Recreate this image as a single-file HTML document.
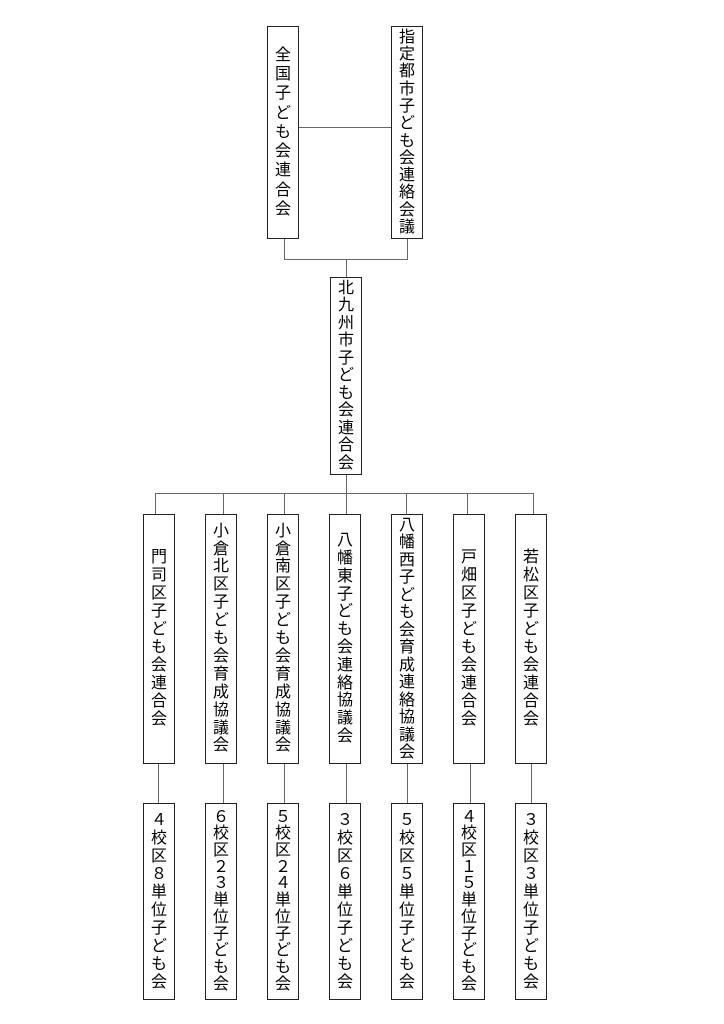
<!DOCTYPE html>
<html><head><meta charset="utf-8"><style>
body{margin:0;background:#fff;width:724px;height:1024px;position:relative;overflow:hidden;font-family:"Liberation Sans","Noto Sans CJK JP",sans-serif;}
.b{position:absolute;border:1.5px solid #222;box-sizing:border-box;display:flex;flex-direction:column;align-items:center;justify-content:center;font-size:16px;color:#000;background:#fff}
.b span{display:block;flex:none;height:var(--lh);line-height:var(--lh)}
.l{position:absolute;background:#666}
</style></head><body>
<div class="l" style="left:298px;top:127px;width:93px;height:1px"></div>
<div class="l" style="left:284px;top:238px;width:1px;height:21px"></div>
<div class="l" style="left:407px;top:238px;width:1px;height:21px"></div>
<div class="l" style="left:284px;top:259px;width:124px;height:1px"></div>
<div class="l" style="left:346px;top:259px;width:1px;height:18px"></div>
<div class="l" style="left:346px;top:474px;width:1px;height:19px"></div>
<div class="l" style="left:155px;top:493px;width:378px;height:1px"></div>
<div class="l" style="left:155px;top:493px;width:1px;height:21px"></div>
<div class="l" style="left:223px;top:493px;width:1px;height:21px"></div>
<div class="l" style="left:284px;top:493px;width:1px;height:21px"></div>
<div class="l" style="left:346px;top:493px;width:1px;height:21px"></div>
<div class="l" style="left:406px;top:493px;width:1px;height:21px"></div>
<div class="l" style="left:467px;top:493px;width:1px;height:21px"></div>
<div class="l" style="left:533px;top:493px;width:1px;height:21px"></div>
<div class="l" style="left:158px;top:763px;width:1px;height:40px"></div>
<div class="l" style="left:223px;top:763px;width:1px;height:40px"></div>
<div class="l" style="left:284px;top:763px;width:1px;height:40px"></div>
<div class="l" style="left:346px;top:763px;width:1px;height:40px"></div>
<div class="l" style="left:407px;top:763px;width:1px;height:40px"></div>
<div class="l" style="left:470px;top:763px;width:1px;height:40px"></div>
<div class="l" style="left:531px;top:763px;width:1px;height:40px"></div>

<div class="b" style="left:267px;top:26px;width:32px;height:213px;--lh:19.3px"><span>全</span><span>国</span><span>子</span><span>ど</span><span>も</span><span>会</span><span>連</span><span>合</span><span>会</span></div>
<div class="b" style="left:391px;top:26px;width:32px;height:213px;--lh:17.3px"><span>指</span><span>定</span><span>都</span><span>市</span><span>子</span><span>ど</span><span>も</span><span>会</span><span>連</span><span>絡</span><span>会</span><span>議</span></div>
<div class="b" style="left:330px;top:277px;width:32px;height:198px;--lh:17.5px"><span>北</span><span>九</span><span>州</span><span>市</span><span>子</span><span>ど</span><span>も</span><span>会</span><span>連</span><span>合</span><span>会</span></div>

<div class="b" style="left:143px;top:514px;width:32px;height:250px;--lh:18px"><span>門</span><span>司</span><span>区</span><span>子</span><span>ど</span><span>も</span><span>会</span><span>連</span><span>合</span><span>会</span></div>
<div class="b" style="left:205px;top:514px;width:32px;height:250px;--lh:17.9px"><span>小</span><span>倉</span><span>北</span><span>区</span><span>子</span><span>ど</span><span>も</span><span>会</span><span>育</span><span>成</span><span>協</span><span>議</span><span>会</span></div>
<div class="b" style="left:267px;top:514px;width:32px;height:250px;--lh:17.9px"><span>小</span><span>倉</span><span>南</span><span>区</span><span>子</span><span>ど</span><span>も</span><span>会</span><span>育</span><span>成</span><span>協</span><span>議</span><span>会</span></div>
<div class="b" style="left:329px;top:514px;width:32px;height:250px;--lh:17.8px"><span>八</span><span>幡</span><span>東</span><span>子</span><span>ど</span><span>も</span><span>会</span><span>連</span><span>絡</span><span>協</span><span>議</span><span>会</span></div>
<div class="b" style="left:391px;top:514px;width:32px;height:250px;--lh:17.5px"><span>八</span><span>幡</span><span>西</span><span>子</span><span>ど</span><span>も</span><span>会</span><span>育</span><span>成</span><span>連</span><span>絡</span><span>協</span><span>議</span><span>会</span></div>
<div class="b" style="left:453px;top:514px;width:32px;height:250px;--lh:18px"><span>戸</span><span>畑</span><span>区</span><span>子</span><span>ど</span><span>も</span><span>会</span><span>連</span><span>合</span><span>会</span></div>
<div class="b" style="left:515px;top:514px;width:32px;height:250px;--lh:18px"><span>若</span><span>松</span><span>区</span><span>子</span><span>ど</span><span>も</span><span>会</span><span>連</span><span>合</span><span>会</span></div>

<div class="b" style="left:143px;top:803px;width:32px;height:197px;--lh:18px"><span>４</span><span>校</span><span>区</span><span>８</span><span>単</span><span>位</span><span>子</span><span>ど</span><span>も</span><span>会</span></div>
<div class="b" style="left:205px;top:803px;width:32px;height:197px;--lh:16.7px"><span>６</span><span>校</span><span>区</span><span>２</span><span>３</span><span>単</span><span>位</span><span>子</span><span>ど</span><span>も</span><span>会</span></div>
<div class="b" style="left:267px;top:803px;width:32px;height:197px;--lh:16.7px"><span>５</span><span>校</span><span>区</span><span>２</span><span>４</span><span>単</span><span>位</span><span>子</span><span>ど</span><span>も</span><span>会</span></div>
<div class="b" style="left:329px;top:803px;width:32px;height:197px;--lh:18px"><span>３</span><span>校</span><span>区</span><span>６</span><span>単</span><span>位</span><span>子</span><span>ど</span><span>も</span><span>会</span></div>
<div class="b" style="left:391px;top:803px;width:32px;height:197px;--lh:18px"><span>５</span><span>校</span><span>区</span><span>５</span><span>単</span><span>位</span><span>子</span><span>ど</span><span>も</span><span>会</span></div>
<div class="b" style="left:453px;top:803px;width:32px;height:197px;--lh:16.7px"><span>４</span><span>校</span><span>区</span><span>１</span><span>５</span><span>単</span><span>位</span><span>子</span><span>ど</span><span>も</span><span>会</span></div>
<div class="b" style="left:515px;top:803px;width:32px;height:197px;--lh:18px"><span>３</span><span>校</span><span>区</span><span>３</span><span>単</span><span>位</span><span>子</span><span>ど</span><span>も</span><span>会</span></div>
</body></html>
